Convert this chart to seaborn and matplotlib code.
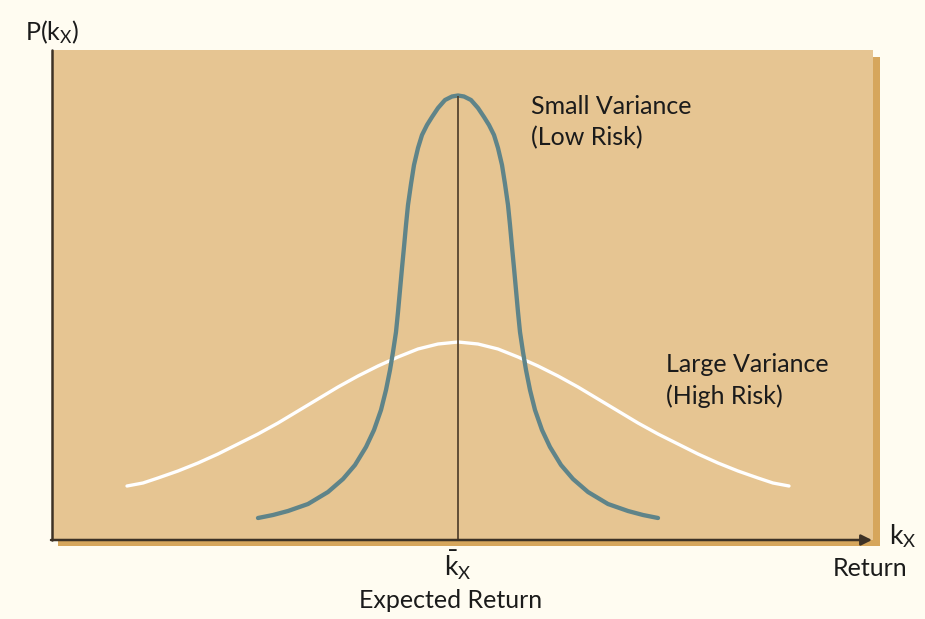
import matplotlib
matplotlib.use("Agg")
import matplotlib.pyplot as plt
import seaborn as sns
from matplotlib.patches import Rectangle

# ---- data (x = return position, y = probability height) ----
narrow_x = [258, 273, 288, 308, 328, 343, 355, 366, 374, 381, 386, 390, 393, 396, 398,
            400, 402, 404, 406, 408, 411, 414, 418, 422, 427, 432, 438, 445, 452, 458,
            464, 471, 478, 484, 489, 494, 498, 502, 505, 508, 510, 512, 514, 516, 518,
            520, 523, 526, 530, 535, 542, 550, 561, 573, 588, 608, 628, 643, 658]
narrow_y = [22, 25, 29, 36, 48, 61, 75, 93, 110, 130, 150, 170, 188, 208, 228,
            250, 272, 293, 315, 335, 356, 375, 392, 405, 415, 423, 432, 440, 443.5, 444.5,
            443.5, 440, 432, 423, 415, 405, 392, 375, 356, 335, 315, 293, 272, 250, 228,
            208, 188, 170, 150, 130, 110, 93, 75, 61, 48, 36, 29, 25, 22]

wide_x = [127, 143, 158, 178, 198, 218, 238, 258, 278, 298, 318, 338, 358, 378, 398,
          418, 438, 458, 478, 498, 518, 538, 558, 578, 598, 618, 638, 658, 678, 698,
          718, 738, 758, 773, 789]
wide_y = [54, 57, 62, 69, 77, 86, 96, 106, 117, 129, 141, 153, 164, 174, 183,
          191, 196, 198, 196, 191, 183, 174, 164, 153, 141, 129, 117, 106, 96, 86,
          77, 69, 62, 57, 54]

expected_x = 458
peak_y = 444.5

label_small = ["Small Variance", "(Low Risk)"]
label_large = ["Large Variance", "(High Risk)"]
y_label = r"P(k$_{\mathrm{X}}$)"
x_label_sym = r"k$_{\mathrm{X}}$"
x_label_txt = "Return"
mean_sym = r"$\bar{\mathrm{k}}_{\mathrm{X}}$"
mean_txt = "Expected Return"

# ---- style ----
sns.set_theme(style="white")
plt.rcParams["font.family"] = ["Lato", "DejaVu Sans"]
plt.rcParams["mathtext.fontset"] = "custom"
plt.rcParams["mathtext.rm"] = "Lato"
plt.rcParams["mathtext.it"] = "Lato:italic"
plt.rcParams["mathtext.bf"] = "Lato:bold"

BG = "#FFFCF1"
PANEL = "#E6C592"
SHADOW = "#D6A65C"
TEAL = "#5F8489"
DARK = "#3d3226"
TXT = "#1b1b1b"

W, H = 925, 619
fig = plt.figure(figsize=(W / 100, H / 100), dpi=100, facecolor=BG)

# background layer in pixel coordinates
bg = fig.add_axes([0, 0, 1, 1], zorder=0)
bg.set_xlim(0, W)
bg.set_ylim(H, 0)
bg.axis("off")
bg.add_patch(Rectangle((58, 57), 822, 489, facecolor=SHADOW, edgecolor="none"))

# main panel
L, R, T, B = 52, 873, 50, 540
ax = fig.add_axes([L / W, (H - B) / H, (R - L) / W, (B - T) / H], zorder=1)
ax.set_facecolor(PANEL)
ax.set_xlim(L, R)
ax.set_ylim(0, B - T)
for s in ax.spines.values():
    s.set_visible(False)
ax.set_xticks([])
ax.set_yticks([])

sns.lineplot(x=wide_x, y=wide_y, ax=ax, color="white", linewidth=2.4, zorder=3)
sns.lineplot(x=narrow_x, y=narrow_y, ax=ax, color=TEAL, linewidth=3.1, zorder=4)
ax.vlines(expected_x, 0, peak_y, color="#4a3a28", linewidth=1.2, zorder=5)

# axes lines
ax.plot([L, L], [0, B - T], color=DARK, linewidth=1.8, clip_on=False, zorder=6)
ax.annotate("", xy=(872, 0), xytext=(L - 1, 0), annotation_clip=False,
            arrowprops=dict(arrowstyle="-|>", color=DARK, lw=1.8, mutation_scale=16,
                            shrinkA=0, shrinkB=0), zorder=6)

# texts (pixel coordinates)
fs = 18
tx = fig.add_axes([0, 0, 1, 1], zorder=2)
tx.set_xlim(0, W)
tx.set_ylim(H, 0)
tx.axis("off")
tx.patch.set_alpha(0)

tx.text(25, 32, y_label, fontsize=fs, color=TXT, ha="left", va="center")
tx.text(531, 106, label_small[0], fontsize=fs, color=TXT, ha="left", va="center")
tx.text(531, 138, label_small[1], fontsize=fs, color=TXT, ha="left", va="center")
tx.text(666, 365, label_large[0], fontsize=fs, color=TXT, ha="left", va="center")
tx.text(666, 396, label_large[1], fontsize=fs, color=TXT, ha="left", va="center")
tx.text(889, 536, x_label_sym, fontsize=fs + 1, color=TXT, ha="left", va="center")
tx.text(907, 568, x_label_txt, fontsize=fs, color=TXT, ha="right", va="center")
tx.text(458, 565, mean_sym, fontsize=fs + 1, color=TXT, ha="center", va="center")
tx.text(451, 601, mean_txt, fontsize=fs, color=TXT, ha="center", va="center")

fig.savefig("out.png", dpi=100, facecolor=BG)
